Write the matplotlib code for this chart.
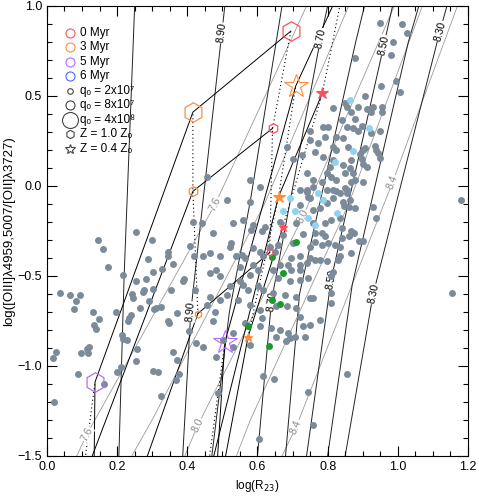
import numpy as np
import matplotlib.pyplot as plt
from matplotlib.ticker import MultipleLocator

plt.rcParams['font.family'] = ['Liberation Sans', 'DejaVu Sans']

# ---- galaxy sample: log(R23), log(O32) ----
gray_x = [0.816, 0.787, 0.802, 0.749, 0.792, 0.825, 0.816, 0.825, 0.749, 0.773, 0.683, 0.726, 0.702,
          0.764, 0.787, 0.816, 0.806, 0.797, 0.811, 0.825, 0.740, 0.759, 0.783, 0.759, 0.721, 0.740,
          0.578, 0.607, 0.455, 0.797, 0.816, 0.745, 0.816,
          0.949, 1.013, 1.025, 0.987, 0.982, 0.878, 0.995, 0.952, 1.006, 0.906, 0.849, 0.854, 0.887,
          0.911, 0.930, 0.954, 0.954, 0.868, 0.925, 0.840, 0.878, 0.854, 0.873, 0.897, 0.949, 0.925,
          0.887, 0.844, 0.859, 0.906, 0.901, 0.935, 0.939, 0.944, 0.892, 0.949, 0.897, 0.868, 0.844,
          0.901, 0.911, 0.863, 0.849, 0.873, 0.868, 0.878, 0.901, 0.849, 0.854,
          0.253, 0.146, 0.160, 0.175, 0.300, 0.289, 0.346, 0.344, 0.360, 0.327, 0.303, 0.217, 0.253,
          0.281, 0.391, 0.388, 0.409, 0.419, 0.415, 0.037, 0.067, 0.082, 0.094, 0.077, 0.132, 0.149,
          0.134, 0.141, 0.213, 0.217, 0.227, 0.239, 0.235, 0.232, 0.198, 0.241, 0.244, 0.265, 0.274,
          0.276, 0.291, 0.303, 0.312, 0.324, 0.306, 0.346, 0.348, 0.353, 0.371, 0.422, 0.426, 0.405,
          0.578, 0.514, 0.740, 0.749, 0.825, 0.721, 0.559, 0.531, 0.588, 0.621, 0.664, 0.711, 0.759,
          0.792, 0.811, 0.759, 0.797, 0.778, 0.474, 0.441, 0.583, 0.612, 0.673, 0.730, 0.764, 0.783,
          0.792, 0.821, 0.802, 0.783, 0.764, 0.749, 0.702, 0.659, 0.635, 0.607, 0.588, 0.526, 0.521,
          0.493, 0.464, 0.445, 0.555, 0.564, 0.540, 0.616, 0.650, 0.697, 0.721, 0.749, 0.764, 0.778,
          0.797, 0.830, 0.740, 0.721, 0.688, 0.664, 0.588, 0.550, 0.483, 0.464, 0.493, 0.602, 0.645,
          0.697, 0.721, 0.816, 0.578, 0.659, 0.692, 0.721, 0.745, 0.811, 0.550, 0.521, 0.559, 0.602,
          0.616, 0.574, 0.512, 0.464, 0.493, 0.645, 0.678, 0.711, 0.749, 0.811, 0.654, 0.683, 0.711,
          0.545, 0.578, 0.607, 0.455, 0.479, 0.474, 0.612, 0.759, 0.811, 0.721, 0.564, 0.607, 0.640,
          0.664, 0.688, 0.707, 0.735, 0.749, 0.730, 0.778, 0.654, 0.692, 0.531, 0.502, 0.578,
          0.835, 0.854, 0.844, 0.846, 0.863, 0.878, 0.861, 0.835, 0.840, 0.840, 0.868, 0.875, 0.861,
          0.835, 0.835, 0.866, 0.890, 0.900, 0.930, 0.937, 1.179, 1.155,
          0.016, 0.026, 0.097, 0.115, 0.121, 0.118, 0.089, 0.163, 0.021, 0.201, 0.211, 0.257, 0.255,
          0.301, 0.317, 0.324, 0.360, 0.371, 0.377, 0.369,
          0.444, 0.483, 0.488, 0.531, 0.616, 0.647, 0.605, 0.681, 0.745, 0.759, 0.854]
gray_y = [0.431, 0.329, 0.329, 0.307, 0.274, 0.274, 0.218, 0.200, 0.255, 0.237, 0.218, 0.172, 0.148,
          0.190, 0.163, 0.144, 0.107, 0.070, 0.052, 0.033, 0.070, 0.033, 0.024, -0.004, -0.023, -0.032,
          0.033, -0.004, 0.052, -0.023, -0.023, -0.060, -0.069,
          0.903, 0.900, 0.852, 0.802, 0.727, 0.709, 0.583, 0.555, 0.520, 0.500, 0.459, 0.440, 0.440,
          0.426, 0.437, 0.437, 0.413, 0.413, 0.413, 0.366, 0.372, 0.329, 0.324, 0.333, 0.307, 0.296,
          0.305, 0.268, 0.218, 0.213, 0.200, 0.222, 0.200, 0.181, 0.177, 0.153, 0.148, 0.144, 0.116,
          0.122, 0.107, 0.098, 0.070, 0.074, 0.024, 0.033, 0.024, -0.013, -0.037,
          -0.257, -0.303, -0.350, -0.448, -0.303, -0.405, -0.368, -0.392, -0.433, -0.461, -0.479,
          -0.494, -0.526, -0.516, -0.516, -0.526, -0.333, -0.392, -0.198, -0.596, -0.605, -0.642,
          -0.605, -0.683, -0.702, -0.741, -0.772, -0.796, -0.828, -0.850, -0.855, -0.716, -0.735,
          -0.748, -0.702, -0.600, -0.624, -0.679, -0.590, -0.578, -0.642, -0.572, -0.679, -0.674,
          -0.683, -0.750, -0.763, -0.581, -0.707, -0.578, -0.874, -0.809,
          -0.092, -0.078, -0.022, -0.068, -0.031, -0.105, -0.189, -0.207, -0.216, -0.226, -0.198,
          -0.207, -0.207, -0.207, -0.189, -0.133, -0.096, -0.124, -0.263, -0.207, -0.244, -0.253,
          -0.272, -0.266, -0.263, -0.259, -0.281, -0.328, -0.318, -0.328, -0.309, -0.337, -0.318,
          -0.328, -0.337, -0.365, -0.346, -0.318, -0.337, -0.392, -0.374, -0.392, -0.383, -0.402,
          -0.392, -0.392, -0.365, -0.402, -0.392, -0.402, -0.411, -0.411, -0.420, -0.411, -0.429,
          -0.439, -0.439, -0.439, -0.439, -0.448, -0.466, -0.485, -0.503, -0.466, -0.466, -0.466,
          -0.466, -0.476, -0.494, -0.513, -0.531, -0.522, -0.513, -0.503, -0.531, -0.559, -0.550,
          -0.559, -0.578, -0.578, -0.605, -0.615, -0.633, -0.596, -0.605, -0.615, -0.624, -0.596,
          -0.670, -0.670, -0.679, -0.633, -0.661, -0.689, -0.661, -0.698, -0.753, -0.735, -0.624,
          -0.652, -0.726, -0.763, -0.781, -0.791, -0.800, -0.818, -0.837, -0.837, -0.772, -0.781,
          -0.744, -0.837, -0.846, -0.818, -0.855, -0.883,
          -0.041, -0.022, -0.087, -0.109, -0.078, -0.124, -0.118, -0.179, -0.235, -0.291, -0.248,
          -0.259, -0.277, -0.337, -0.392, -0.374, -0.305, -0.305, -0.115, -0.181, -0.079, -0.596,
          -0.958, -0.925, -0.930, -0.908, -0.897, -0.926, -1.045, -1.102, -1.202, -1.032, -1.004,
          -0.908, -0.971, -1.028, -1.032, -1.165, -0.921, -0.967, -1.045, -1.078,
          -0.893, -0.949, -1.152, -0.893, -1.056, -1.074, -1.408, -0.860, -1.143, -1.328, -1.045]

blue_x = [0.863, 0.919, 0.873, 0.821, 0.773, 0.692, 0.786, 0.672, 0.706, 0.744, 0.764, 0.826]
blue_y = [0.477, 0.324, 0.196, 0.135, -0.041, -0.069, -0.078, -0.142, -0.142, -0.178, -0.217, -0.150]

green_x = [0.709, 0.641, 0.672, 0.641, 0.664, 0.573, 0.632]
green_y = [-0.311, -0.394, -0.483, -0.633, -0.656, -0.778, -0.889]

# ---- metallicity isolines: x (log R23) at the given log O32 nodes ----
upper_names = ['', '8.90', '8.80', '8.70', '8.60', '8.50', '8.40', '8.30']
upper_x = [[0.205, 0.22, 0.25],
           [0.387, 0.41, 0.445, 0.507],
           [0.47, 0.52, 0.58, 0.67],
           [0.60, 0.64, 0.78, 0.80],
           [0.68, 0.72, 0.88, 0.905],
           [0.74, 0.81, 0.96, 0.985],
           [0.80, 0.87, 1.03, 1.06],
           [0.85, 0.93, 1.12, 1.14]]
upper_y = [[-1.5, -0.5, 1.0],
           [-1.5, -0.7, -0.08, 1.0],
           [-1.5, -0.7, -0.08, 1.0],
           [-1.5, -0.64, 0.82, 1.0],
           [-1.5, -0.6, 0.8, 1.0],
           [-1.5, -0.52, 0.78, 1.0],
           [-1.5, -0.55, 0.8, 1.0],
           [-1.5, -0.60, 0.86, 1.0]]
upper_label_y = {'8.90': [0.85, -0.70], '8.70': [0.82, -0.64],
                 '8.50': [0.78, -0.52], '8.30': [0.86, -0.60]}

lower_names = ['7.6', '7.8', '8.0', '8.2', '8.4']
lower_x = [[0.085, 0.114, 0.48, 0.74],
           [0.242, 0.30, 0.62, 0.86],
           [0.393, 0.43, 0.73, 0.99],
           [0.54, 0.58, 0.86, 1.07],
           [0.67, 0.71, 0.985, 1.17]]
lower_y = [[-1.5, -1.38, -0.1, 1.0],
           [-1.5, -1.3, -0.1, 1.0],
           [-1.5, -1.33, -0.17, 1.0],
           [-1.5, -1.3, -0.1, 1.0],
           [-1.5, -1.34, 0.02, 1.0]]
lower_label_y = {'7.6': [-0.10, -1.38], '8.0': [-0.17, -1.33], '8.4': [0.02, -1.34]}

# ---- photoionisation model tracks, ages 0, 3, 5, 6 Myr ----
ages = ['0 Myr', '3 Myr', '5 Myr', '6 Myr']
age_colors = ['#ff4f5e', '#ff8c3a', '#b36cff', '#4a6bff']
q_labels = ['q\u2092 = 2x10\u2077', 'q\u2092 = 8x10\u2077', 'q\u2092 = 4x10\u2078']
z_labels = ['Z = 1.0 Z\u2092', 'Z = 0.4 Z\u2092']
q_size = [5, 7, 14]

# Z = 1.0 Zsun (hexagons); one list per q (2e7, 8e7, 4e8)
hex_x = [[0.635, 0.43, 0.25, 0.22],
         [0.643, 0.416, 0.10, 0.08],
         [0.695, 0.416, 0.137, 0.133]]
hex_y = [[-0.37, -0.71, -1.70, -1.90],
         [0.32, -0.03, -1.65, -1.90],
         [0.86, 0.41, -1.09, -1.80]]
# Z = 0.4 Zsun (stars)
star_x = [[0.672, 0.573, 0.49, 0.47],
          [0.785, 0.66, 0.45, 0.43],
          [0.85, 0.709, 0.507, 0.48]]
star_y = [[-0.23, -0.84, -1.70, -1.90],
          [0.515, -0.06, -1.70, -1.90],
          [1.15, 0.555, -0.87, -1.70]]

fig = plt.figure(figsize=(4.79, 4.96), dpi=100)
ax = fig.add_axes([0.098, 0.081, 0.879, 0.907])
ax.set_xlim(0.0, 1.2)
ax.set_ylim(-1.5, 1.0)


def label_line(xs, ys, yl, text, color):
    xl = np.interp(yl, ys, xs)
    p1 = ax.transData.transform((np.interp(yl - 0.05, ys, xs), yl - 0.05))
    p2 = ax.transData.transform((np.interp(yl + 0.05, ys, xs), yl + 0.05))
    ang = np.degrees(np.arctan2(p2[1] - p1[1], p2[0] - p1[0]))
    ax.text(xl, yl, text, rotation=ang, rotation_mode='anchor', ha='center', va='center',
            color=color, fontsize=7.5, zorder=2.5,
            bbox=dict(fc='white', ec='none', pad=0.3))


for xs, ys, name in zip(lower_x, lower_y, lower_names):
    ax.plot(xs, ys, color='#9a9a9a', lw=0.6, zorder=1)
    for yl in lower_label_y.get(name, []):
        label_line(xs, ys, yl, name, '#8a8a8a')

for xs, ys, name in zip(upper_x, upper_y, upper_names):
    ax.plot(xs, ys, color='#222222', lw=0.7, zorder=1.5)
    for yl in upper_label_y.get(name, []):
        label_line(xs, ys, yl, name, 'black')

# tracks: solid along age for a fixed q, dotted across q for a fixed age
for tx, ty in [(hex_x, hex_y), (star_x, star_y)]:
    for i in range(3):
        ax.plot(tx[i], ty[i], color='black', lw=0.7, zorder=2)
    for j in range(4):
        ax.plot([tx[i][j] for i in range(3)], [ty[i][j] for i in range(3)],
                color='black', lw=0.8, ls=(0, (1, 2.5)), zorder=2)

ax.plot(gray_x, gray_y, 'o', color='#7c8b99', ms=5, mec='none', zorder=3)
ax.plot(blue_x, blue_y, 'o', color='#8fd3f0', ms=5, mec='none', zorder=3.1)
ax.plot(green_x, green_y, 'o', color='#1a9a2a', ms=5, mec='none', zorder=3.1)

for i in range(3):
    for j in range(4):
        ax.plot(hex_x[i][j], hex_y[i][j], 'h', ms=q_size[i], mfc='none', mec=age_colors[j],
                mew=0.9, zorder=4)
        filled = age_colors[j] if i < 2 else 'none'
        ax.plot(star_x[i][j], star_y[i][j], '*', ms=q_size[i] * 1.25, mfc=filled,
                mec=age_colors[j], mew=0.8, zorder=4)

# legend, drawn row by row in axes coordinates
leg_text = ages + q_labels + z_labels
leg_marker = ['o'] * 7 + ['h', '*']
leg_ms = [6.5] * 4 + [4, 6.5, 11.5, 6, 7]
leg_col = age_colors + ['#444444'] * 5
row0, drow = 0.9403, 0.0322
for k in range(len(leg_text)):
    yk = row0 - k * drow
    ax.plot(0.055, yk, leg_marker[k], ms=leg_ms[k], mfc='none', mec=leg_col[k], mew=0.8,
            transform=ax.transAxes, zorder=5)
    ax.text(0.078, yk, leg_text[k], fontsize=8.5, ha='left', va='center', transform=ax.transAxes,
            zorder=5)

ax.xaxis.set_major_locator(MultipleLocator(0.2))
ax.xaxis.set_minor_locator(MultipleLocator(0.05))
ax.yaxis.set_major_locator(MultipleLocator(0.5))
ax.yaxis.set_minor_locator(MultipleLocator(0.1))
ax.tick_params(which='both', direction='in', top=True, right=True, width=0.8, labelsize=9)
ax.tick_params(which='major', length=7)
ax.tick_params(which='minor', length=3.5)
for s in ax.spines.values():
    s.set_linewidth(0.8)

ax.set_xlabel('log(R$_{23}$)', fontsize=8.5, labelpad=4)
ax.set_ylabel('log([OIII]\u03bb4959,5007/[OII]\u03bb3727)', fontsize=9.5, labelpad=2)

fig.savefig('out.png', dpi=100)
